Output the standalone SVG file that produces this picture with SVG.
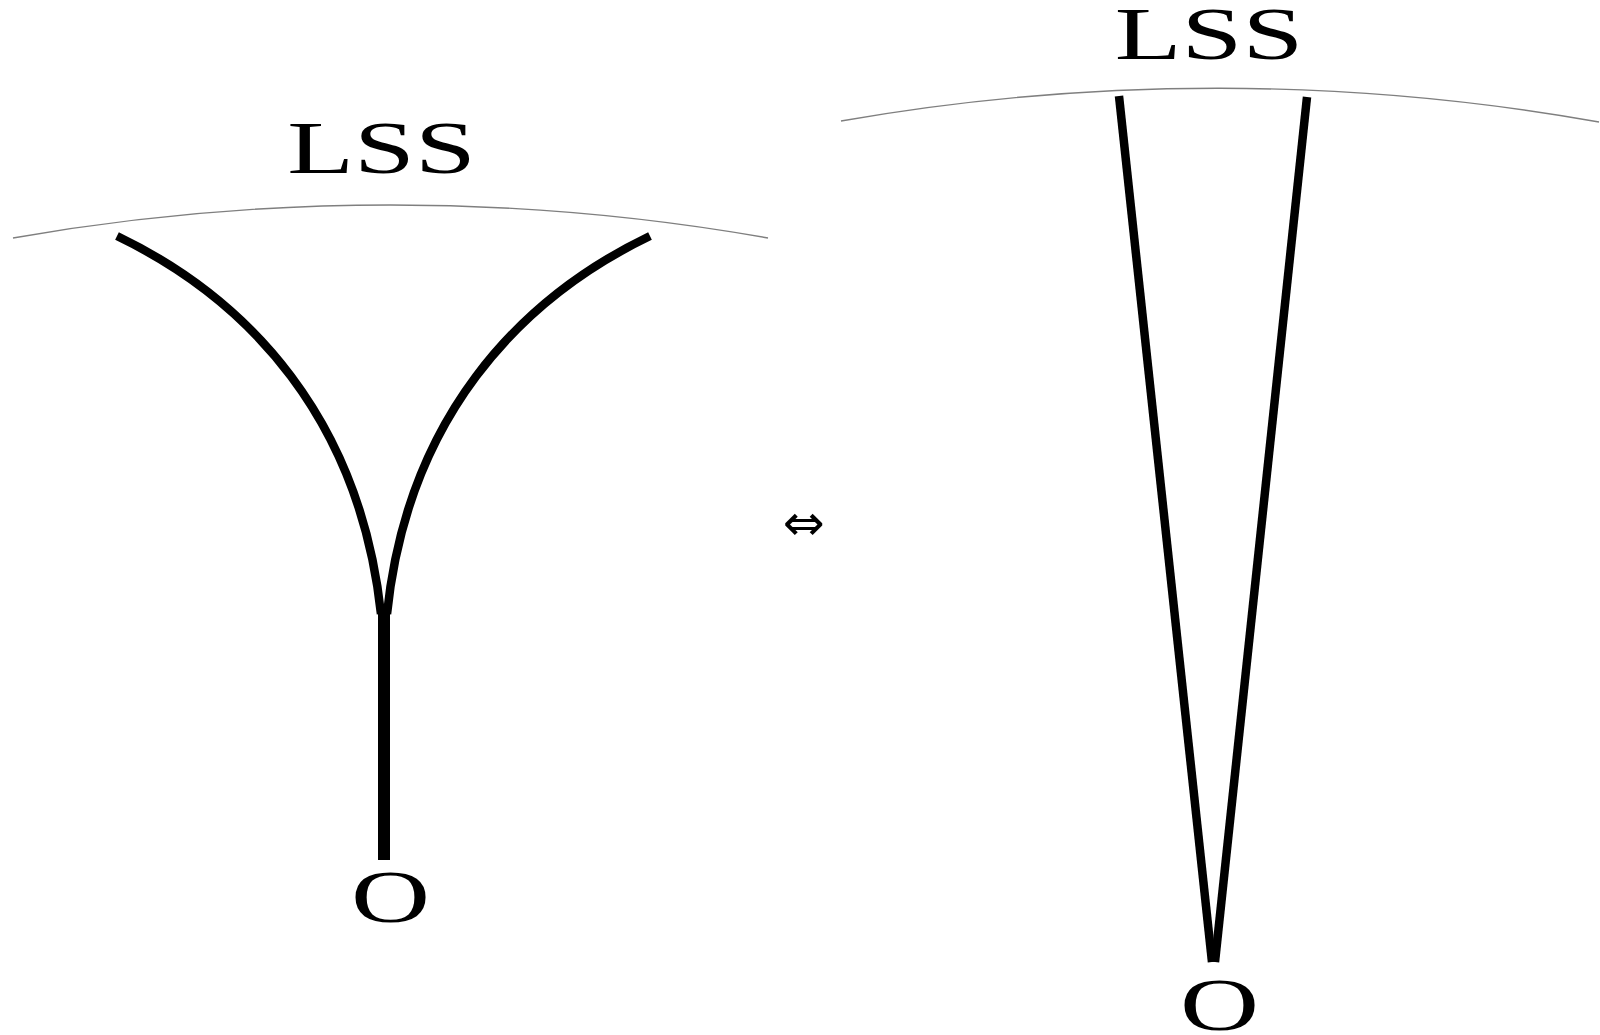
<svg xmlns="http://www.w3.org/2000/svg" width="1600" height="1035" viewBox="0 0 1600 1035">
<style>
.lbl{font-family:"Liberation Serif","Times New Roman",serif;font-size:73px;fill:#000;text-anchor:middle}
.sym{font-family:"DejaVu Sans",sans-serif;font-size:50px;fill:#000;text-anchor:middle}
.lss{fill:none;stroke:#7f7f7f;stroke-width:1.4}
.ray{fill:none;stroke:#000;stroke-width:8.5;stroke-linecap:butt}
.stem{fill:none;stroke:#000;stroke-width:12}
</style>
<rect width="1600" height="1035" fill="#fff"/>
<g id="left-figure">
  <g id="left-lss">
    <path class="lss" d="M13,238 A2176,2176 0 0 1 768,238"/>
    <text class="lbl" transform="translate(381.5,173) scale(1.5,1)">LSS</text>
  </g>
  <g id="left-origin">
    <text class="lbl" transform="translate(390.5,922) scale(1.5,1)">O</text>
  </g>
</g>
<g id="equivalence">
  <text class="sym" x="804" y="540">⇔</text>
</g>
<g id="right-figure">
  <g id="right-lss">
    <path class="lss" d="M841,121 A2176,2176 0 0 1 1599,122"/>
    <text class="lbl" transform="translate(1209,59) scale(1.5,1)">LSS</text>
  </g>
  <g id="right-origin">
    <text class="lbl" transform="translate(1219.5,1030) scale(1.5,1)">O</text>
  </g>
</g>
<g id="connectors">
  <path class="ray" d="M117,236 C250,300 360,420 381,614"/>
  <path class="ray" d="M650,236 C517,300 407,420 387,614"/>
  <path class="stem" d="M384,606 L384,860"/>
  <path class="ray" d="M1119,96 L1212,962"/>
  <path class="ray" d="M1307,97 L1215,962"/>
</g>
</svg>
